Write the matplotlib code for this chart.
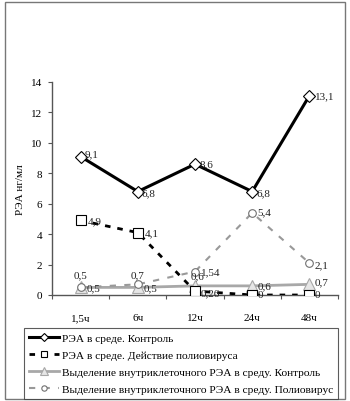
import matplotlib
matplotlib.use("Agg")
import matplotlib.pyplot as plt
from matplotlib.patches import Rectangle

plt.rcParams['font.family'] = ['Liberation Serif', 'DejaVu Serif']

# data
hours = ['1,5ч', '6ч', '12ч', '24ч', '48ч']
control = [9.1, 6.8, 8.6, 6.8, 13.1]
polio = [4.9, 4.1, 0.26, 0, 0]
release_control = [0.5, 0.5, 0.6, 0.6, 0.7]
release_polio = [0.5, 0.7, 1.54, 5.4, 2.1]

names = ['РЭА в среде. Контроль',
         'РЭА в среде. Действие полиовируса',
         'Выделение внутриклеточного РЭА в среду. Контроль',
         'Выделение внутриклеточного РЭА в среду. Полиовирус']


def fmt(v):
    return ('%g' % v).replace('.', ',')


fig = plt.figure(figsize=(3.5, 4.02), dpi=100)
ax = fig.add_axes([52 / 350, 1 - 296 / 402, 286 / 350, 213 / 402])

x = range(len(hours))

l1, = ax.plot(x, control, color='black', lw=2.2, marker='D', ms=6,
              mfc='white', mec='black', mew=0.8, zorder=5)
l2, = ax.plot(x, polio, color='black', lw=2, ls=(0, (2, 2.5)), marker='s',
              ms=7, mfc='white', mec='black', mew=0.8, zorder=4)
l3, = ax.plot(x, release_control, color='#a8a8a8', lw=2, marker='^', ms=8,
              mfc='#e6e6e6', mec='#a8a8a8', mew=0.8, zorder=3)
l4, = ax.plot(x, release_polio, color='#999999', lw=1.5, ls=(0, (3, 4)),
              marker='o', ms=5.5, mfc='white', mec='#707070', mew=0.8,
              zorder=3)

# label offsets in points, and horizontal alignment
off1 = [(3, 2), (3, -1), (3, 0), (3, -1), (4, 0)]
off2 = [(5, 0), (5, 0), (4, -1), (4, 0), (4, 0)]
off3 = [(4, 0), (4, 0), (2, 7), (4, 0), (4, 2)]
off4 = [(0, 9), (0, 7), (4, 0), (4, 1), (4, -1)]
ha4 = ['center', 'center', 'left', 'left', 'left']
ha3 = ['left', 'left', 'center', 'left', 'left']

for vals, offs, has in [(control, off1, ['left'] * 5),
                        (polio, off2, ['left'] * 5),
                        (release_control, off3, ha3),
                        (release_polio, off4, ha4)]:
    for i, v in enumerate(vals):
        ax.annotate(fmt(v), (i, v), xytext=offs[i], textcoords='offset points',
                    fontsize=8, color='#222222', va='center', ha=has[i],
                    zorder=6)

ax.set_xlim(-0.5, 4.5)
ax.set_ylim(0, 14)
ax.set_yticks(range(0, 15, 2))
ax.set_xticks([i + 0.5 for i in range(-1, 5)], minor=False)
ax.set_xticklabels([])
ax.set_xticks(list(x), minor=True)
ax.set_xticklabels(hours, minor=True)
ax.tick_params(axis='x', which='minor', length=0, pad=13, labelsize=8)
ax.tick_params(axis='x', which='major', length=3, color='#555555')
ax.tick_params(axis='y', length=3, labelsize=8, color='#555555', pad=4)
ax.set_ylabel('РЭА нг/мл', fontsize=8)
ax.yaxis.set_label_coords(-0.095, 0.5)

for s in ['top', 'right']:
    ax.spines[s].set_visible(False)
for s in ['left', 'bottom']:
    ax.spines[s].set_color('#555555')
    ax.spines[s].set_linewidth(1)

leg = fig.legend([l1, l2, l3, l4], names, loc='upper left',
                 bbox_to_anchor=(24 / 350, 1 - 329 / 402), fontsize=8.2,
                 frameon=True, fancybox=False, handlelength=2.6,
                 handletextpad=0.25, labelspacing=0.6, borderpad=0.45,
                 borderaxespad=0, markerscale=0.7)
leg.get_frame().set_edgecolor('#333333')
leg.get_frame().set_linewidth(0.8)

fig.patches.append(Rectangle((5 / 350, 2 / 402), 340 / 350, 397 / 402,
                             transform=fig.transFigure, fill=False,
                             edgecolor='#777777', lw=1))

fig.savefig('out.png', dpi=100)
